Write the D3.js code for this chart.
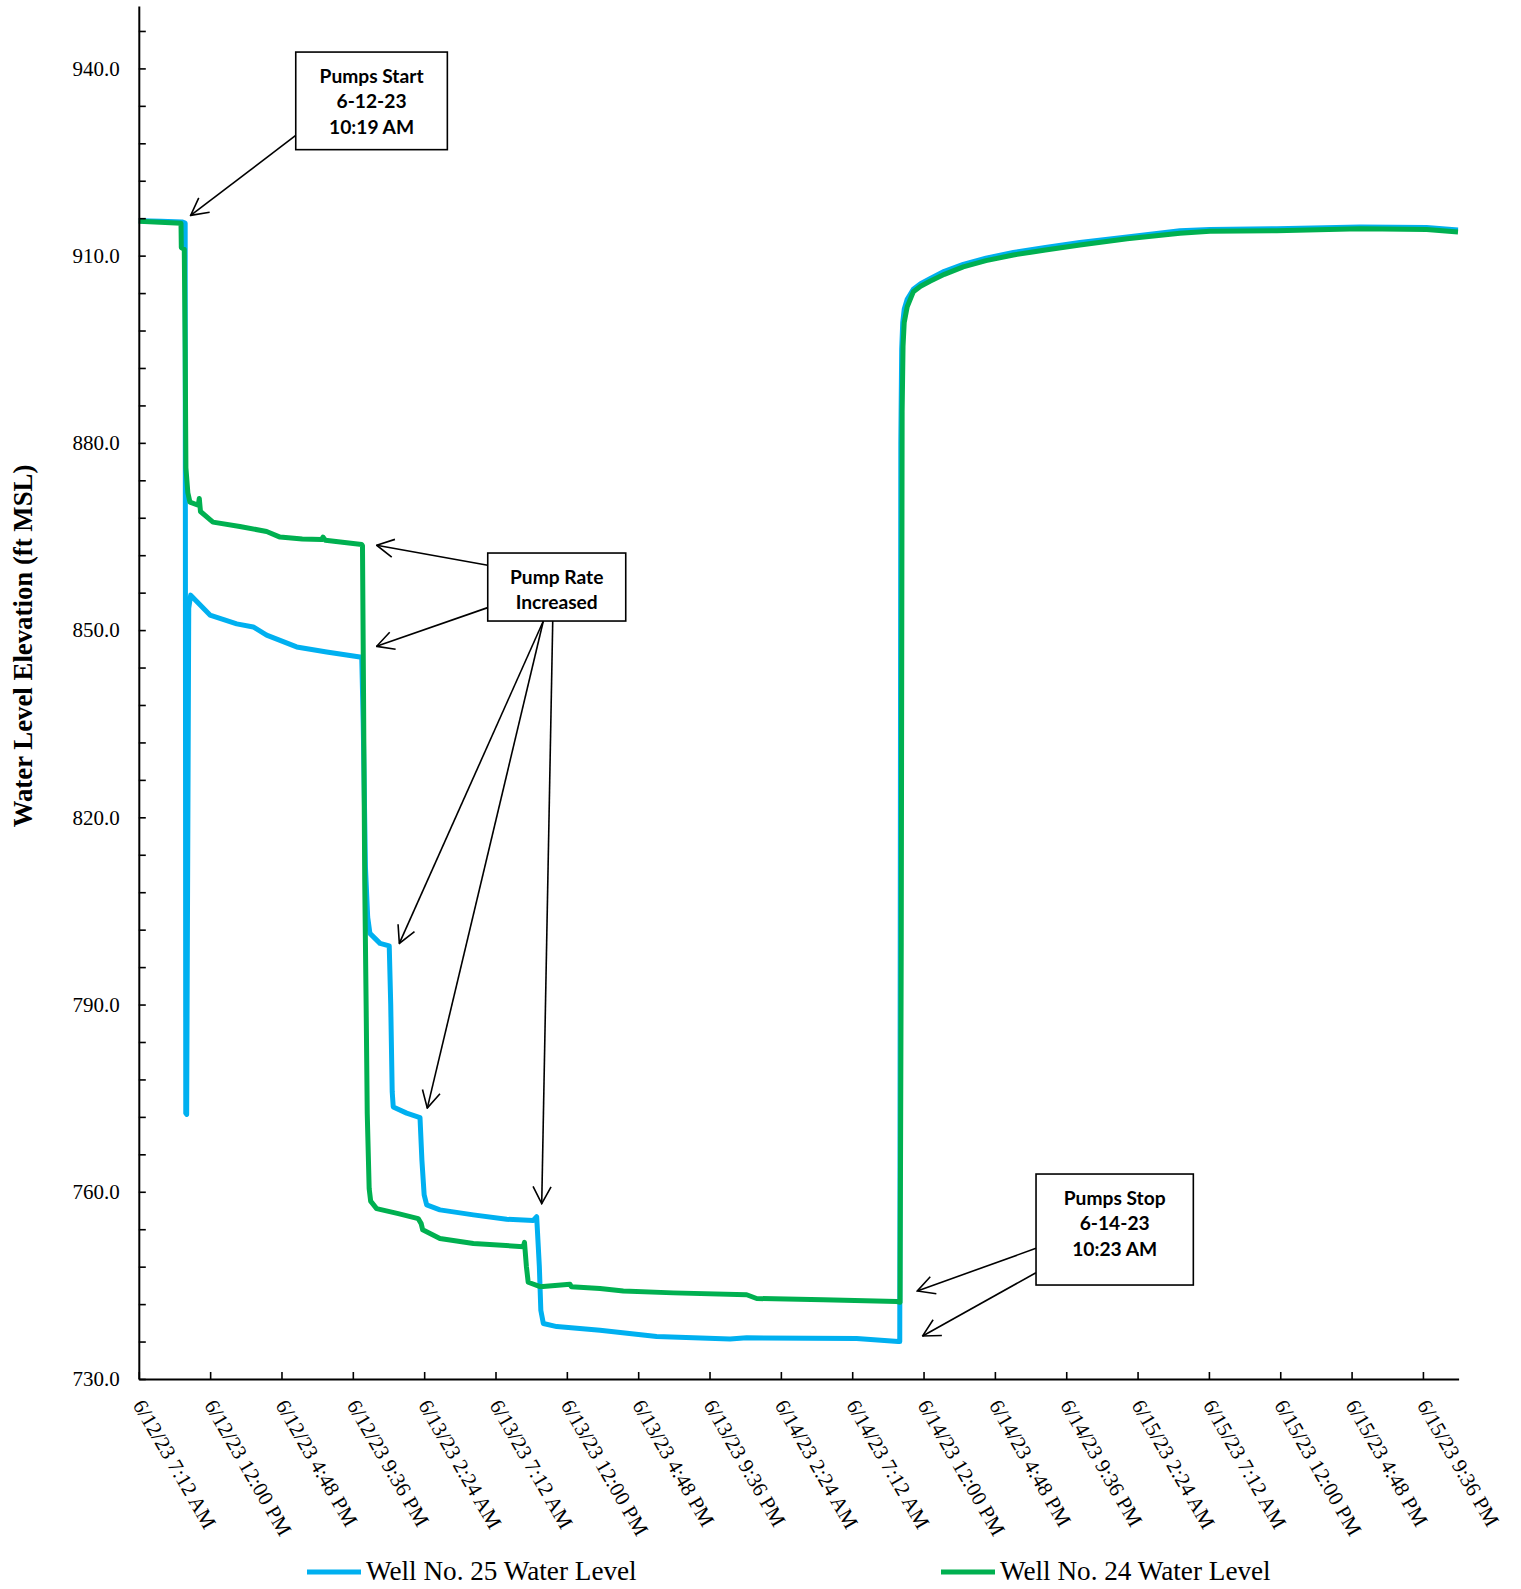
<!DOCTYPE html>
<html>
<head>
<meta charset="utf-8">
<script src="https://cdn.jsdelivr.net/npm/d3@7"></script>
<style>
  html, body { margin: 0; padding: 0; background: #fff; overflow: hidden; }
  svg { display: block; }
</style>
</head>
<body>
<svg id="chart" width="1521" height="1589"></svg>
<script>
// ---------------- DATA ----------------
// Time is hours elapsed since 6/12/23 7:12 AM (axis origin)
const seriesNames = ["Well No. 25 Water Level", "Well No. 24 Water Level"];

const well25Hours = [0, 1.5, 2.9, 3.12, 3.16, 3.22, 3.36, 3.49, 4.79, 6.59, 7.70, 8.60, 10.62, 12.64, 14.88,
  15.0, 15.1, 15.25, 15.4, 15.55, 16.23, 16.85, 16.95, 17.05, 17.12, 18.02, 18.92, 19.05, 19.2, 19.37,
  20.26, 22.51, 24.75, 26.54, 26.77, 26.95, 27.05, 27.22, 28.12, 31.03, 34.84, 39.78, 40.9, 48.30, 51.1,
  51.2, 51.27, 51.33, 51.4, 51.5, 51.7, 52.11, 52.6, 53.23, 54.2, 55.47, 57.0, 58.84, 61.0, 63.32, 66.5, 70.05, 72.07, 76.56, 82.16, 86.65, 88.76];
const well25Level = [915.6, 915.5, 915.4, 915.2, 772.6, 772.4, 853.5, 855.6, 852.4, 851.0, 850.5, 849.2, 847.3, 846.5, 845.7,
  845.6, 835.0, 812.0, 804.0, 801.4, 799.8, 799.4, 790.0, 776.0, 773.6, 772.6, 771.9, 765.0, 759.5, 757.9,
  757.1, 756.3, 755.6, 755.4, 756.0, 748.0, 741.0, 738.9, 738.4, 737.8, 736.8, 736.4, 736.6, 736.5, 736.0,
  736.0, 880.0, 895.0, 899.3, 901.4, 903.0, 904.6, 905.5, 906.3, 907.5, 908.6, 909.6, 910.5, 911.3, 912.1, 913.0, 914.0, 914.2, 914.3, 914.6, 914.5, 914.1];

const well24Hours = [0, 2.84, 2.86, 3.06, 3.12, 3.17, 3.3, 3.44, 4.0, 4.07, 4.15, 4.99, 6.8, 8.6, 9.5, 11.0,
  12.3, 12.4, 12.55, 15.0, 15.05, 15.12, 15.2, 15.3, 15.37, 15.5, 15.6, 16.0, 17.46, 18.80, 19.0, 19.1,
  20.26, 22.51, 25.87, 25.95, 26.08, 26.2, 27.0, 29.01, 29.1, 31.03, 32.6, 35.96, 40.9, 41.57, 46.05, 51.0,
  51.22, 51.3, 51.36, 51.42, 51.5, 51.7, 52.11, 52.6, 53.23, 54.2, 55.47, 57.0, 58.84, 61.0, 63.32, 66.5, 70.05, 72.07, 76.56, 82.16, 86.65, 88.76];
const well24Level = [915.5, 915.2, 911.3, 911.0, 895.0, 876.0, 872.0, 870.5, 870.0, 871.1, 869.0, 867.3, 866.6, 865.8, 864.9, 864.6,
  864.5, 864.9, 864.4, 863.7, 863.5, 840.0, 810.0, 789.0, 772.6, 760.5, 758.5, 757.3, 756.5, 755.7, 754.9, 753.9,
  752.5, 751.7, 751.2, 751.9, 748.0, 745.5, 744.8, 745.2, 744.8, 744.5, 744.1, 743.8, 743.5, 742.9, 742.7, 742.4,
  742.3, 800.0, 885.0, 895.5, 899.3, 901.8, 904.2, 905.1, 905.9, 907.0, 908.2, 909.2, 910.1, 910.9, 911.7, 912.7, 913.6, 913.9, 914.0, 914.3, 914.2, 913.8];

const xTickHours = [0, 4.8, 9.6, 14.4, 19.2, 24, 28.8, 33.6, 38.4, 43.2, 48, 52.8, 57.6, 62.4, 67.2, 72, 76.8, 81.6, 86.4];
const xTickLabels = ["6/12/23 7:12 AM", "6/12/23 12:00 PM", "6/12/23 4:48 PM", "6/12/23 9:36 PM",
  "6/13/23 2:24 AM", "6/13/23 7:12 AM", "6/13/23 12:00 PM", "6/13/23 4:48 PM", "6/13/23 9:36 PM",
  "6/14/23 2:24 AM", "6/14/23 7:12 AM", "6/14/23 12:00 PM", "6/14/23 4:48 PM", "6/14/23 9:36 PM",
  "6/15/23 2:24 AM", "6/15/23 7:12 AM", "6/15/23 12:00 PM", "6/15/23 4:48 PM", "6/15/23 9:36 PM"];
const yMajorTicks = [730, 760, 790, 820, 850, 880, 910, 940];
const yMinorTicks = [736, 742, 748, 754, 766, 772, 778, 784, 796, 802, 808, 814, 826, 832, 838, 844,
  856, 862, 868, 874, 886, 892, 898, 904, 916, 922, 928, 934, 946];
const yTitle = "Water Level Elevation (ft MSL)";

// annotations anchored in data space (hours, ft)
const annoStartText = ["Pumps Start", "6-12-23", "10:19 AM"];
const annoRateText = ["Pump Rate", "Increased"];
const annoStopText = ["Pumps Stop", "6-14-23", "10:23 AM"];
const annoStartAnchor = [15.66, 934.8];
const annoRateAnchor = [28.12, 856.9];
const annoStopAnchor = [65.66, 753.95];
const annoStartTips = [[3.49, 916.45]];
const annoRateTips = [[16.0, 863.6], [16.0, 847.4], [17.53, 799.8], [19.41, 773.4], [27.11, 758.1]];
const annoStopTips = [[52.38, 744.1], [52.74, 736.9]];

// ---------------- CHART ----------------
const svg = d3.select("#chart");
const plotLeft = 138.8, plotRight = 1458.6, plotTop = 6, plotBottom = 1379;
const x = d3.scaleLinear().domain([0, 88.8]).range([plotLeft, plotRight]);
const y = d3.scaleLinear().domain([730, 950]).range([plotBottom, plotTop]);

const serif = "'Liberation Serif', 'Times New Roman', serif";
const sans = "Lato, 'Open Sans', sans-serif";

// lines
const line = d3.line().x(d => x(d[0])).y(d => y(d[1]));
const s25 = well25Hours.map((h, i) => [h, well25Level[i]]);
const s24 = well24Hours.map((h, i) => [h, well24Level[i]]);
const colors = ["#00B0F0", "#00B050"];
[s25, s24].forEach((s, i) => {
  svg.append("path").datum(s).attr("d", line)
    .attr("fill", "none").attr("stroke", colors[i]).attr("stroke-width", 5)
    .attr("stroke-linejoin", "round").attr("stroke-linecap", "butt");
});

// y axis
const yAxisG = svg.append("g").attr("transform", `translate(${plotLeft},0)`);
yAxisG.call(d3.axisLeft(y).tickValues(yMajorTicks).tickSizeInner(-7).tickSizeOuter(0).tickFormat(d3.format(".1f")).tickPadding(19));
yAxisG.append("g").call(d3.axisLeft(y).tickValues(yMinorTicks).tickSizeInner(-7).tickSizeOuter(0).tickFormat(""))
  .select(".domain").remove();
yAxisG.selectAll("text").attr("font-family", serif).attr("font-size", 21).attr("fill", "#000");
yAxisG.selectAll(".tick line").attr("stroke", "#000").attr("stroke-width", 1.6);
yAxisG.select(".domain").attr("stroke", "#000").attr("stroke-width", 2);

// x axis
const xAxisG = svg.append("g").attr("transform", `translate(0,${plotBottom})`);
xAxisG.call(d3.axisBottom(x).tickValues(xTickHours).tickSizeInner(-7).tickSizeOuter(0).tickFormat(""));
xAxisG.selectAll(".tick line").attr("stroke", "#000").attr("stroke-width", 1.6);
xAxisG.select(".domain").attr("stroke", "#000").attr("stroke-width", 2);
xAxisG.selectAll(".tick").append("text")
  .attr("transform", "translate(-7,26) rotate(60)")
  .attr("text-anchor", "start")
  .attr("font-family", serif).attr("font-size", 21).attr("fill", "#000")
  .text((d, i) => xTickLabels[i]);

// y title
svg.append("text")
  .attr("transform", `translate(32,646) rotate(-90)`)
  .attr("text-anchor", "middle")
  .attr("font-family", serif).attr("font-size", 26.8).attr("font-weight", "bold")
  .text(yTitle);

// arrow marker
svg.append("defs").append("marker")
  .attr("id", "arr").attr("viewBox", "0 0 20 20").attr("refX", 19).attr("refY", 10)
  .attr("markerWidth", 20).attr("markerHeight", 20).attr("markerUnits", "userSpaceOnUse")
  .attr("orient", "auto")
  .append("path").attr("d", "M2,1 L19,10 L2,19").attr("fill", "none").attr("stroke", "#000").attr("stroke-width", 1.6);

function annotation(anchor, lines, w, h, tails, tips) {
  const cx = x(anchor[0]), cy = y(anchor[1]);
  const g = svg.append("g");
  tips.forEach((t, i) => {
    const tl = tails[i];
    g.append("line")
      .attr("x1", cx + tl[0]).attr("y1", cy + tl[1])
      .attr("x2", x(t[0])).attr("y2", y(t[1]))
      .attr("stroke", "#000").attr("stroke-width", 1.6).attr("marker-end", "url(#arr)");
  });
  g.append("rect").attr("x", cx - w / 2).attr("y", cy - h / 2).attr("width", w).attr("height", h)
    .attr("fill", "#fff").attr("stroke", "#000").attr("stroke-width", 1.6);
  lines.forEach((s, i) => {
    g.append("text").attr("x", cx).attr("y", cy - h / 2 + 24 + i * 25.7)
      .attr("dy", "0.35em").attr("text-anchor", "middle")
      .attr("font-family", sans).attr("font-weight", "bold").attr("font-size", 19.2).attr("fill", "#000")
      .text(s);
  });
}
annotation(annoStartAnchor, annoStartText, 151.6, 97.6, [[-75.8, 34.5]], annoStartTips);
annotation(annoRateAnchor, annoRateText, 138, 68, [[-69, -21.7], [-69, 20.6], [-13.4, 34], [-13.4, 34], [-4, 34]], annoRateTips);
annotation(annoStopAnchor, annoStopText, 157.3, 111, [[-78.7, 18.8], [-78.7, 43.2]], annoStopTips);

// legend
const legendX = [307, 941];
seriesNames.forEach((n, i) => {
  svg.append("line").attr("x1", legendX[i]).attr("x2", legendX[i] + 54).attr("y1", 1572).attr("y2", 1572)
    .attr("stroke", colors[i]).attr("stroke-width", 5);
  svg.append("text").attr("x", legendX[i] + 59).attr("y", 1580)
    .attr("font-family", serif).attr("font-size", 27.2).attr("fill", "#000").text(n);
});
</script>
</body>
</html>
